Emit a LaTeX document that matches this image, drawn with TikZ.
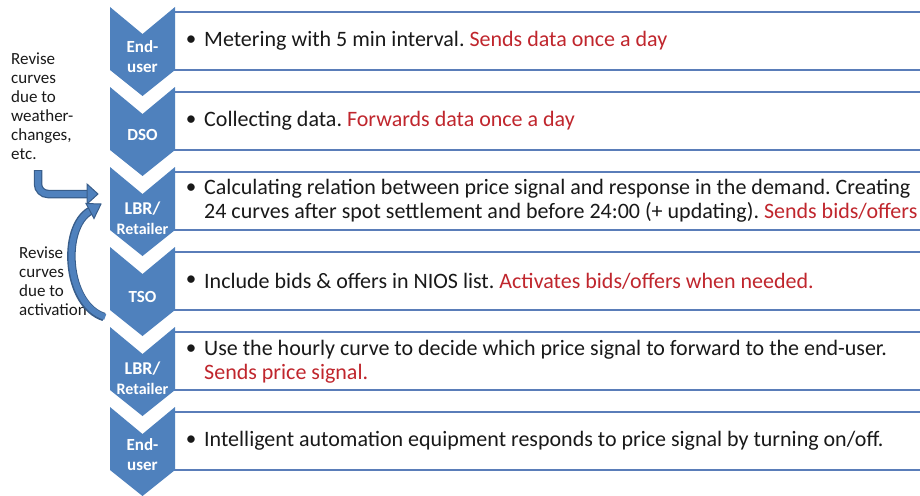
\documentclass[tikz,border=0pt]{standalone}
\usepackage{fontspec}
\setmainfont{Carlito}
\frenchspacing
\definecolor{chev}{RGB}{79,129,189}
\definecolor{chevdark}{RGB}{56,93,138}
\definecolor{boxline}{RGB}{90,125,185}
\definecolor{redtxt}{RGB}{192,38,45}
\definecolor{txt}{RGB}{25,25,25}
\begin{document}
\begin{tikzpicture}[x=1pt,y=-1pt,
  chevtxt/.style={text=white,font=\bfseries\fontsize{17}{20}\selectfont,align=center,inner sep=0pt},
  lbrtxt/.style={text=white,font=\bfseries\fontsize{18}{20}\selectfont,align=center,inner sep=0pt},
  rettxt/.style={text=white,font=\bfseries\fontsize{16}{18}\selectfont,align=center,inner sep=0pt},
  listbox/.style={draw=boxline,line width=1.8pt,fill=white},
  bul/.style={text=txt,font=\fontsize{21}{24}\selectfont,inner sep=0pt,anchor=center},
  itemtxt/.style={text=txt,font=\fontsize{22}{24}\selectfont,inner sep=0pt,anchor=west,align=left},
  note/.style={text=txt,font=\fontsize{17}{19}\selectfont,inner sep=0pt,anchor=north west,align=left},
  arrowout/.style={draw=chevdark,line width=8.5pt},
  arrowin/.style={draw=chev,line width=6pt},
  arrowhead/.style={fill=chev,draw=chevdark,line width=1pt,line join=miter}]
\useasboundingbox (0,0) rectangle (920,495);
\clip (0,0) rectangle (920,495);
% boxes
\foreach \k in {0,...,5}{
  \draw[listbox] (172,{12+80*\k}) rectangle (945,{70+80*\k});
}
% chevrons
\foreach \k in {0,...,5}{
  \pgfmathsetmacro{\t}{7+80*\k}
  \fill[chev] (110,\t) -- (142.5,\t+27) -- (175,\t) -- (175,\t+63) -- (142.5,\t+89) -- (110,\t+63) -- cycle;
}
% chevron labels
\node[chevtxt] (c1) at (142.5,57) {End-\\user};
\node[chevtxt] (c2) at (142.5,135) {DSO};
\node[lbrtxt] (c3a) at (142.5,209) {LBR/};
\node[rettxt] (c3b) at (142.5,229) {Retailer};
\node[chevtxt] (c4) at (142.5,297) {TSO};
\node[lbrtxt] (c5a) at (142.5,369) {LBR/};
\node[rettxt] (c5b) at (142.5,389) {Retailer};
\node[chevtxt] (c6) at (142.5,455) {End-\\user};
% bullets
\foreach \y [count=\i] in {41,121,189,281,350,441}{
  \node[bul] (b\i) at (191,\y) {\textbullet};
}
% item texts
\node[itemtxt] (t1) at (204,41) {Metering with 5 min interval. \textcolor{redtxt}{Sends data once a day}};
\node[itemtxt] (t2) at (204,121) {Collecting data. \textcolor{redtxt}{Forwards data once a day}};
\node[itemtxt] (t3) at (204,201) {Calculating relation between price signal and response in the demand. Creating\\24 curves after spot settlement and before 24:00 (+ updating). \textcolor{redtxt}{Sends bids/offers}};
\node[itemtxt] (t4) at (204,281) {Include bids \& offers in NIOS list. \textcolor{redtxt}{Activates bids/offers when needed.}};
\node[itemtxt] (t5) at (204,362) {Use the hourly curve to decide which price signal to forward to the end-user.\\\textcolor{redtxt}{Sends price signal.}};
\node[itemtxt] (t6) at (204,441) {Intelligent automation equipment responds to price signal by turning on/off.};
% notes
\node[note] (n1) at (11,53) {Revise\\curves\\due to\\weather-\\changes,\\etc.};
\node[note] (n2) at (19,247) {Revise\\curves\\due to\\activation};
% arrow 1 (bent)
\coordinate (a1s) at (38,170);
\coordinate (a1c) at (38,194);
\coordinate (a1e) at (88,194);
\draw[arrowout,rounded corners=10pt] (a1s) -- (a1c) -- (a1e);
\draw[arrowin,rounded corners=10pt] ([yshift=-1.2pt]a1s) -- (a1c) -- ([xshift=1pt]a1e);
\draw[arrowhead] (87,184) -- (98,194) -- (87,204) -- cycle;
% arrow 2 (curved)
\coordinate (a2s) at (104,317);
\coordinate (a2e) at (90,211);
\draw[arrowout] (a2s) .. controls (66,305) and (61,228) .. (a2e);
\draw[arrowin] ([xshift=1.2pt]a2s) .. controls (66,305) and (61,228) .. ([xshift=0.5pt,yshift=0.3pt]a2e);
\draw[arrowhead] (86,203.5) -- (101,204) -- (94,218.5) -- cycle;
\end{tikzpicture}
\end{document}
